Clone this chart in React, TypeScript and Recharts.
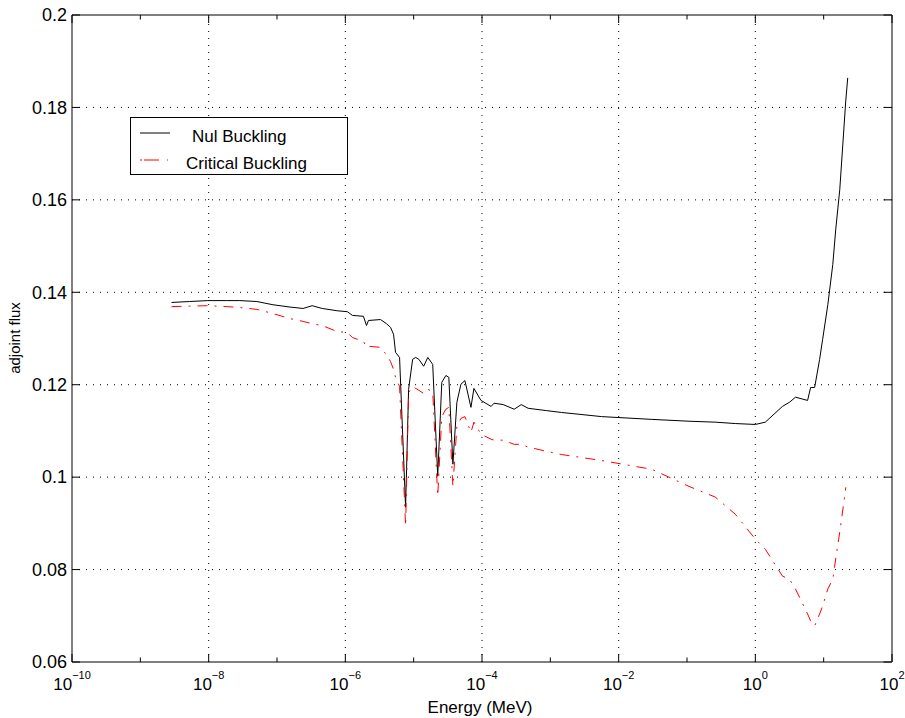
import { LineChart, Line, XAxis, YAxis, ReferenceLine, ReferenceArea } from 'recharts'

// energy grid (MeV), shared by both curves
const energy = [
  2.86e-9, 5.26e-9, 9.7e-9, 1.84e-8, 2.86e-8, 5.08e-8, 8.73e-8, 1.55e-7, 2.41e-7, 3.27e-7,
  4.59e-7, 7.62e-7, 1.07e-6, 1.27e-6, 1.84e-6, 2.04e-6, 2.18e-6, 3.27e-6, 4.01e-6, 4.59e-6,
  5.08e-6, 5.43e-6, 6.22e-6, 7.62e-6, 8.43e-6, 9.66e-6, 1.07e-5, 1.19e-5, 1.4e-5, 1.61e-5,
  1.9e-5, 2.25e-5, 2.58e-5, 2.96e-5, 3.27e-5, 3.75e-5, 4.29e-5, 4.91e-5, 5.62e-5, 6.89e-5,
  7.62e-5, 9.66e-5, 1.36e-4, 1.5e-4, 2.04e-4, 2.96e-4, 3.75e-4, 4.74e-4, 8.73e-4, 1.45e-3,
  5.62e-3, 3.05e-2, 0.107, 0.258, 0.508, 1.0, 1.4, 2.49, 3.16, 3.87,
  5.82, 6.44, 7.38, 8.73, 9.66, 11.5, 13.6, 15.0, 17.2, 21.1,
  22.5,
]

const nulBuckling = [
  0.1378, 0.138, 0.1382, 0.1382, 0.1382, 0.138, 0.1373, 0.1368, 0.1365, 0.1371,
  0.1365, 0.136, 0.1358, 0.135, 0.1348, 0.1328, 0.1339, 0.1341, 0.1332, 0.1324,
  0.1309, 0.127, 0.1259, 0.0935, 0.119, 0.1255, 0.1259, 0.1255, 0.124, 0.1259,
  0.1244, 0.1002, 0.1205, 0.122, 0.1216, 0.1028, 0.1162, 0.1201, 0.1209, 0.1151,
  0.1192, 0.1166, 0.1153, 0.116, 0.1157, 0.1147, 0.1157, 0.1149, 0.1144, 0.114,
  0.1131, 0.1125, 0.1121, 0.1119, 0.1116, 0.1114, 0.1119, 0.1153, 0.1162, 0.1173,
  0.1166, 0.1194, 0.1194, 0.1255, 0.1298, 0.1373, 0.146, 0.1535, 0.1622, 0.1816,
  0.1864,
]

const criticalBuckling = [
  0.1369, 0.137, 0.1371, 0.1369, 0.1367, 0.1363, 0.1354, 0.1343, 0.1337, 0.1332,
  0.1328, 0.1315, 0.1313, 0.1302, 0.1294, 0.1281, 0.1283, 0.1281, 0.1265, 0.125,
  0.1233, 0.1216, 0.1196, 0.0894, 0.1183, 0.1196, 0.1192, 0.1188, 0.1181, 0.119,
  0.1185, 0.0959, 0.1131, 0.1147, 0.1151, 0.098, 0.111, 0.1127, 0.1131, 0.1097,
  0.1119, 0.1093, 0.1082, 0.108, 0.108, 0.1071, 0.1071, 0.1065, 0.1056, 0.1049,
  0.1036, 0.1017, 0.098, 0.0957, 0.092, 0.0866, 0.0844, 0.0786, 0.0779, 0.0758,
  0.0704, 0.0689, 0.0678, 0.0704, 0.0721, 0.0758, 0.0779, 0.0823, 0.0881, 0.0978,
  null,
]

const xTicks = [1e-10, 1e-9, 1e-8, 1e-7, 1e-6, 1e-5, 1e-4, 1e-3, 1e-2, 1e-1, 1, 10, 100]
const xGrid = [1e-8, 1e-6, 1e-4, 1e-2, 1]
const yTicks = [0.06, 0.08, 0.1, 0.12, 0.14, 0.16, 0.18, 0.2]
const yLabels = ['0.06', '0.08', '0.1', '0.12', '0.14', '0.16', '0.18', '0.2']
const yGrid = [0.08, 0.1, 0.12, 0.14, 0.16, 0.18]
const seriesNames = ['Nul Buckling', 'Critical Buckling']

const data = energy.map((e, i) => ({ energy: e, nul: nulBuckling[i], critical: criticalBuckling[i] }))

const FONT = '"Liberation Sans", Arial, Helvetica, sans-serif'
const PLOT_W = 819.5
const PLOT_H = 647
const RED_DASH = '10 7 2 7'

function XTick(props: any) {
  const { x, y, payload } = props
  const exp = Math.round(Math.log10(payload.value))
  const major = exp % 2 === 0
  const len = major ? 8 : 4.5
  return (
    <g>
      <line x1={x} x2={x} y1={y} y2={y - len} stroke="#000" />
      <line x1={x} x2={x} y1={y - PLOT_H} y2={y - PLOT_H + len} stroke="#000" />
      {major && (
        <text x={x} y={y + 28} textAnchor="middle" fontSize={17} fill="#000" fontFamily={FONT}>
          <tspan>10</tspan>
          <tspan dy={-11} fontSize={11}>{exp < 0 ? '\u2212' + -exp : String(exp)}</tspan>
        </text>
      )}
    </g>
  )
}

function YTick(props: any) {
  const { x, y, index } = props
  return (
    <g>
      <line x1={x} x2={x + 8} y1={y} y2={y} stroke="#000" />
      <line x1={x + PLOT_W} x2={x + PLOT_W - 8} y1={y} y2={y} stroke="#000" />
      <text x={x - 5} y={y} dy="0.35em" textAnchor="end" fontSize={18} fill="#000" fontFamily={FONT}>
        {yLabels[index]}
      </text>
    </g>
  )
}

// legend drawn as an overlay so it does not steal plot space
function LegendBox() {
  return (
    <svg
      width={218}
      height={58}
      style={{ position: 'absolute', left: 130, top: 117, display: 'block', fontFamily: FONT }}
    >
      <rect x={0.5} y={0.5} width={217} height={57} fill="#fff" stroke="#000" />
      <line x1={10} x2={40} y1={16} y2={16} stroke="#000" />
      <text x={62} y={25} fontSize={17} fill="#000">{seriesNames[0]}</text>
      <line x1={10} x2={38} y1={43} y2={43} stroke="#f00" strokeDasharray="2 2 15 8 2 50" />
      <text x={56} y={52} fontSize={17} fill="#000">{seriesNames[1]}</text>
    </svg>
  )
}

export default function App() {
  return (
    <div style={{ position: 'absolute', left: 0, top: 0, width: 905, height: 718 }}>
      <LineChart
        width={905}
        height={718}
        data={data}
        margin={{ top: 15, right: 13, left: 0, bottom: 0 }}
        style={{ fontFamily: FONT, background: '#fff' }}
      >
        <XAxis
          dataKey="energy"
          type="number"
          scale="log"
          domain={[1e-10, 100]}
          ticks={xTicks}
          interval={0}
          allowDataOverflow
          tickSize={0}
          tickMargin={0}
          axisLine={false}
          tickLine={false}
          height={56}
          tick={(p: any) => <XTick {...p} />}
          label={{
            content: () => (
              <text x={480} y={713} textAnchor="middle" fontSize={17} fill="#000" fontFamily={FONT}>
                Energy (MeV)
              </text>
            ),
          }}
        />
        <YAxis
          type="number"
          domain={[0.06, 0.2]}
          ticks={yTicks}
          interval={0}
          allowDataOverflow
          tickSize={0}
          tickMargin={0}
          axisLine={false}
          tickLine={false}
          width={72}
          tick={(p: any) => <YTick {...p} />}
          label={{
            content: () => (
              <text
                x={20}
                y={338}
                transform="rotate(-90, 20, 338)"
                textAnchor="middle"
                fontSize={15}
                fill="#000"
                fontFamily={FONT}
              >
                adjoint  flux
              </text>
            ),
          }}
        />
        {xGrid.map(v => (
          <ReferenceLine key={'x' + v} x={v} stroke="#000" strokeDasharray="1 6" />
        ))}
        {yGrid.map(v => (
          <ReferenceLine key={'y' + v} y={v} stroke="#000" strokeDasharray="1 6" />
        ))}
        <Line
          type="linear"
          dataKey="nul"
          name={seriesNames[0]}
          stroke="#000"
          strokeWidth={1}
          dot={false}
          isAnimationActive={false}
        />
        <Line
          type="linear"
          dataKey="critical"
          name={seriesNames[1]}
          stroke="#ff0000"
          strokeWidth={1}
          strokeDasharray={RED_DASH}
          dot={false}
          isAnimationActive={false}
        />
        <ReferenceArea
          x1={1e-10}
          x2={100}
          y1={0.06}
          y2={0.2}
          fill="none"
          fillOpacity={0}
          stroke="#000"
          strokeOpacity={1}
        />
      </LineChart>
      <LegendBox />
    </div>
  )
}
